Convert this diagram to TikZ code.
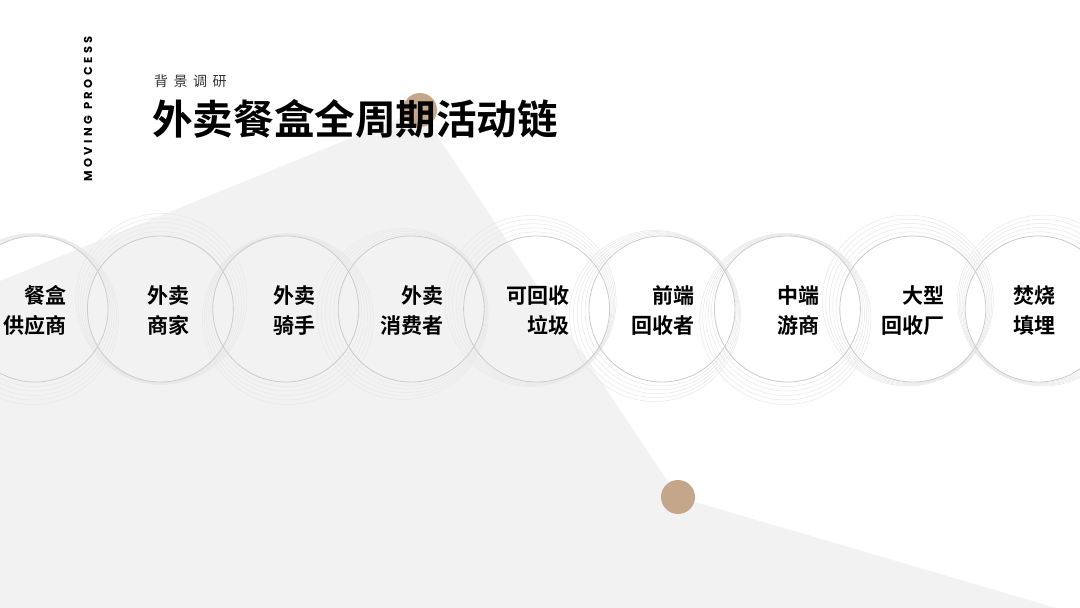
\documentclass[tikz,border=0pt]{standalone}
\usepackage{fontspec}
\newfontfamily\cjk{Noto Sans CJK SC}
\newfontfamily\cjkb{Noto Sans CJK SC Bold}
\newfontfamily\popb{Poppins Bold}[LetterSpace=30]
\definecolor{polygray}{HTML}{F2F2F2}
\definecolor{brownone}{HTML}{C4A78A}
\definecolor{circgray}{HTML}{CBCBCB}
\definecolor{ringgray}{HTML}{E8E8E8}
\definecolor{subgray}{HTML}{333333}
\begin{document}
\begin{tikzpicture}[x=1pt,y=-1pt,
  ring/.style={draw=ringgray,line width=0.5pt},
  mainc/.style={circle,draw=circgray,line width=0.8pt,minimum size=146pt,inner sep=0pt},
  dotc/.style={circle,fill=brownone,minimum size=34pt,inner sep=0pt},
  lbl/.style={font=\cjkb\fontsize{21}{30}\selectfont,align=right,anchor=east,inner sep=0pt,text=black}]
\useasboundingbox (0,0) rectangle (1080,608);
\fill[white] (0,0) rectangle (1080,608);
\begin{scope}
\clip (0,0) rectangle (1080,608);
\fill[polygray] (420,110) -- (0,281) -- (0,620) -- (1080,620) -- (1080,615) -- (678,497) -- cycle;
\end{scope}
\node[dotc] (b1) at (420,110) {};
\node[dotc] (b2) at (678,497) {};
% rings
\foreach \k/\ux/\uy in {1/-0.2/1, 2/0.1/-1, 3/0.2/1, 4/-0.85/0.5, 5/-0.6/-0.8, 6/-0.7/0.7, 7/-0.2/1, 8/-0.5/-0.85, 9/0.5/-0.85}{
  \foreach \j in {1,...,5}{
    \draw[ring] ({35+125.4*(\k-1)+\ux*2*\j},{309+\uy*2*\j}) circle[radius={73pt+2.5pt*\j}];
  }
}
% main circles
\foreach \k in {1,...,9}{
  \node[mainc] (c\k) at ({35+125.4*(\k-1)},309) {};
}
% labels
\node[lbl] (t1) at (67,310.5) {餐盒\\供应商};
\node[lbl] (t2) at (190,310.5) {外卖\\商家};
\node[lbl] (t3) at (316,310.5) {外卖\\骑手};
\node[lbl] (t4) at (444,310.5) {外卖\\消费者};
\node[lbl] (t5) at (570,310.5) {可回收\\垃圾};
\node[lbl] (t6) at (695,310.5) {前端\\回收者};
\node[lbl] (t7) at (820,310.5) {中端\\游商};
\node[lbl] (t8) at (945,310.5) {大型\\回收厂};
\node[lbl] (t9) at (1056,310.5) {焚烧\\填埋};
% titles
\node[anchor=west,inner sep=0pt,font=\cjkb\fontsize{40.6}{40.6}\selectfont,text=black] (title) at (152,118.5) {外卖餐盒全周期活动链};
\node[anchor=west,inner sep=0pt,font=\cjk\fontsize{14}{14}\selectfont,text=subgray] (sub) at (154,81.5) {背\hspace{5.5pt}景\hspace{5.5pt}调\hspace{5.5pt}研};
\node[rotate=90,inner sep=0pt,font=\popb\fontsize{11.5}{11.5}\selectfont,text=black] (mp) at (88,109) {MOVING PROCESS};
\end{tikzpicture}
\end{document}
